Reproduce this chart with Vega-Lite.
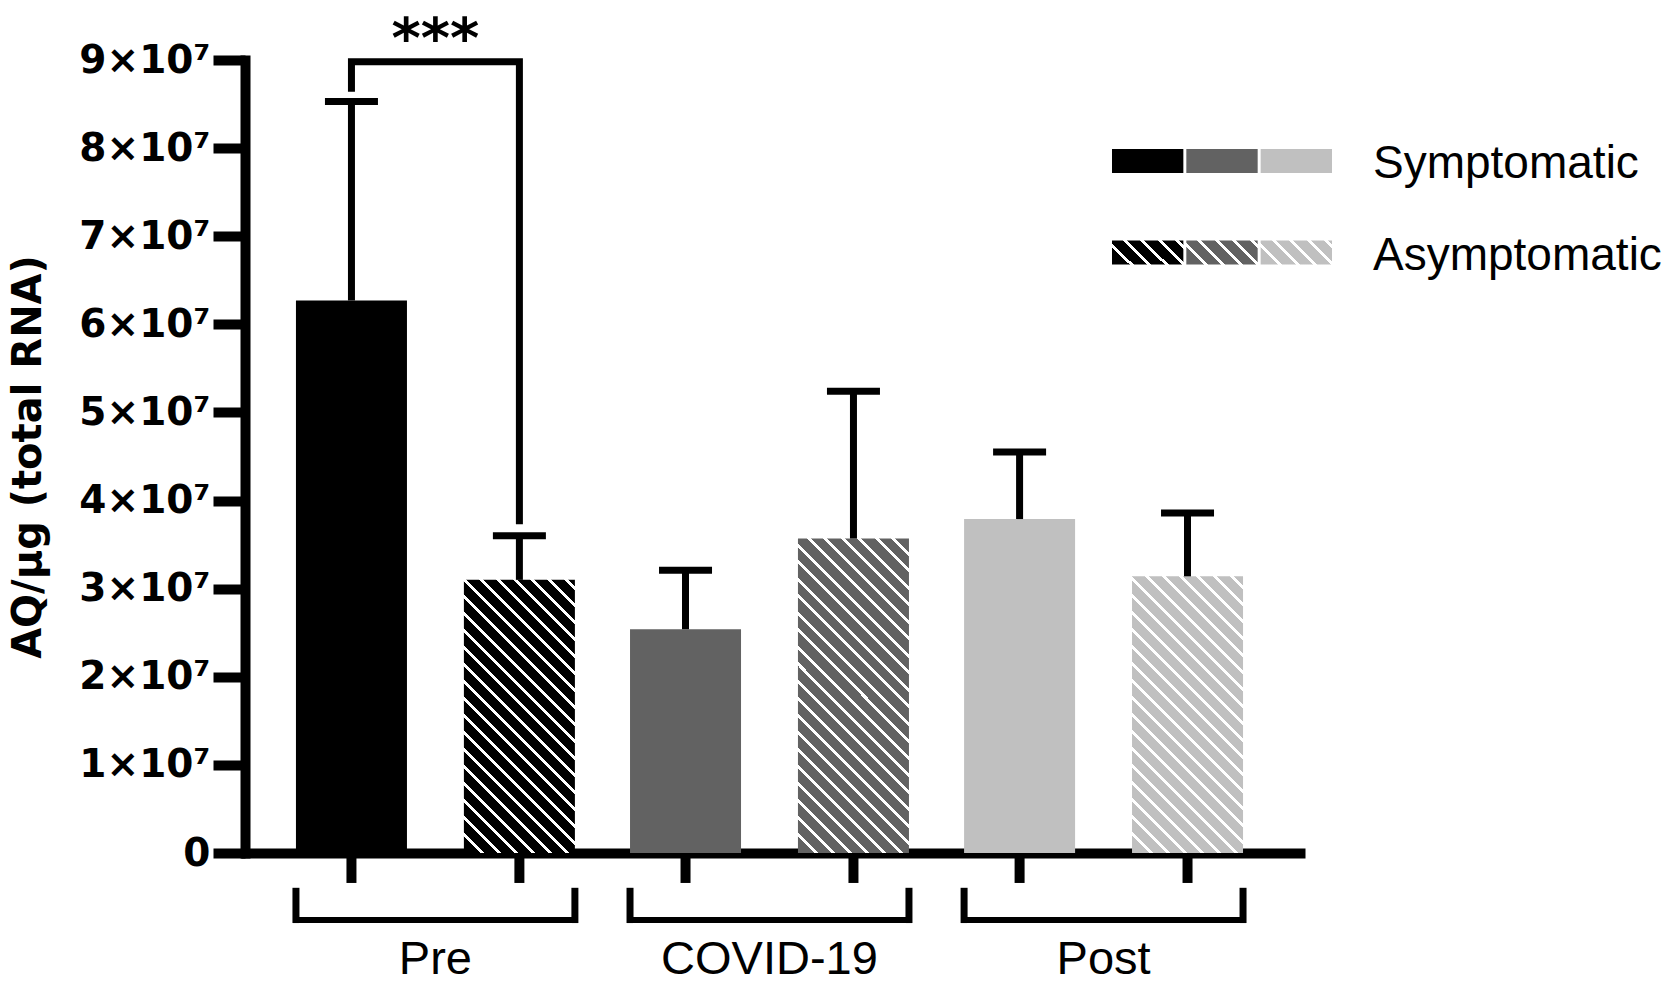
{
  "$schema": "https://vega.github.io/schema/vega-lite/v6.json",
  "autosize": "none",
  "width": 1064,
  "height": 793,
  "padding": {"left": 241, "top": 60, "right": 366, "bottom": 132},
  "background": "white",
  "config": {
    "view": {"stroke": null},
    "font": "Liberation Sans",
    "axisY": {"grid": false, "offset": -4, "domainWidth": 10, "domainColor": "black", "domainCap": "square", "tickWidth": 10, "tickSize": 32, "tickColor": "black", "labelFont": "DejaVu Sans", "labelFontSize": 39, "labelFontWeight": "bold", "labelColor": "black", "labelPadding": 3, "labelFlush": false, "labelOverlap": false, "titleFont": "DejaVu Sans", "titleFontSize": 40, "titleFontWeight": "bold", "titleColor": "black", "titlePadding": 30},
    "axisX": {"domainWidth": 10, "domainColor": "black", "ticks": false, "tickSize": 0, "labelFont": "Liberation Sans", "labelFontSize": 47, "labelColor": "black", "labelAngle": 0, "labelBaseline": "alphabetic", "labelPadding": 120, "labelLimit": 0, "grid": false}
  },
  "datasets": {
    "bars": [
      {"period": "Pre", "status": "Symptomatic", "mean": 62700000, "upper": 85300000},
      {"period": "Pre", "status": "Asymptomatic", "mean": 31000000, "upper": 36000000},
      {"period": "COVID-19", "status": "Symptomatic", "mean": 25400000, "upper": 32100000},
      {"period": "COVID-19", "status": "Asymptomatic", "mean": 35700000, "upper": 52400000},
      {"period": "Post", "status": "Symptomatic", "mean": 37900000, "upper": 45500000},
      {"period": "Post", "status": "Asymptomatic", "mean": 31400000, "upper": 38600000}
    ],
    "sig": [
      {"i": 1, "period": "Pre", "status": "Symptomatic", "v": 86400000},
      {"i": 2, "period": "Pre", "status": "Symptomatic", "v": 89800000},
      {"i": 3, "period": "Pre", "status": "Asymptomatic", "v": 89800000},
      {"i": 4, "period": "Pre", "status": "Asymptomatic", "v": 37300000}
    ],
    "groups": [{"period": "Pre"}, {"period": "COVID-19"}, {"period": "Post"}],
    "legend": [
      {"entry": "Symptomatic", "period": "Pre"},
      {"entry": "Symptomatic", "period": "COVID-19"},
      {"entry": "Symptomatic", "period": "Post"},
      {"entry": "Asymptomatic", "period": "Pre"},
      {"entry": "Asymptomatic", "period": "COVID-19"},
      {"entry": "Asymptomatic", "period": "Post"}
    ],
    "entries": [{"entry": "Symptomatic"}, {"entry": "Asymptomatic"}]
  },
  "layer": [
    {
      "encoding": {
        "x": {
          "field": "period", "type": "nominal", "title": null,
          "scale": {"domain": ["Pre", "COVID-19", "Post"], "paddingInner": 0.165, "paddingOuter": 0.175, "align": 0.47}
        }
      },
      "layer": [
        {
          "data": {"name": "bars"},
          "transform": [{"filter": "datum.status === 'Symptomatic'"}],
          "mark": {"type": "bar"},
          "encoding": {
            "xOffset": {"field": "status", "type": "nominal", "scale": {"domain": ["Symptomatic", "Asymptomatic"], "paddingInner": 0.339, "paddingOuter": 0}},
            "y": {
              "field": "mean", "type": "quantitative",
              "scale": {"domain": [0, 90000000], "nice": false},
              "axis": {"title": "AQ/μg (total RNA)", "values": [0, 10000000, 20000000, 30000000, 40000000, 50000000, 60000000, 70000000, 80000000, 90000000], "labelExpr": "datum.value === 0 ? '0' : format(datum.value / 10000000, 'd') + '×10⁷'"}
            },
            "color": {"field": "period", "type": "nominal", "scale": {"domain": ["Pre", "COVID-19", "Post"], "range": ["#000000", "#626262", "#c0c0c0"]}, "legend": null}
          }
        },
        {
          "data": {"name": "bars"},
          "transform": [{"filter": "datum.status === 'Asymptomatic' && datum.period === 'Pre'"}],
          "mark": {"type": "bar", "fill": {"gradient": "linear", "x1": 0, "y1": 1, "x2": 0.4906, "y2": -0.207, "stops": [
            {"offset": 0, "color": "#000000"},
            {"offset": 0.0443, "color": "#000000"}, {"offset": 0.0443, "color": "#ffffff"}, {"offset": 0.0547, "color": "#ffffff"}, {"offset": 0.0547, "color": "#000000"},
            {"offset": 0.0885, "color": "#000000"}, {"offset": 0.0885, "color": "#ffffff"}, {"offset": 0.0989, "color": "#ffffff"}, {"offset": 0.0989, "color": "#000000"},
            {"offset": 0.1328, "color": "#000000"}, {"offset": 0.1328, "color": "#ffffff"}, {"offset": 0.1432, "color": "#ffffff"}, {"offset": 0.1432, "color": "#000000"},
            {"offset": 0.1770, "color": "#000000"}, {"offset": 0.1770, "color": "#ffffff"}, {"offset": 0.1874, "color": "#ffffff"}, {"offset": 0.1874, "color": "#000000"},
            {"offset": 0.2213, "color": "#000000"}, {"offset": 0.2213, "color": "#ffffff"}, {"offset": 0.2317, "color": "#ffffff"}, {"offset": 0.2317, "color": "#000000"},
            {"offset": 0.2656, "color": "#000000"}, {"offset": 0.2656, "color": "#ffffff"}, {"offset": 0.2760, "color": "#ffffff"}, {"offset": 0.2760, "color": "#000000"},
            {"offset": 0.3098, "color": "#000000"}, {"offset": 0.3098, "color": "#ffffff"}, {"offset": 0.3202, "color": "#ffffff"}, {"offset": 0.3202, "color": "#000000"},
            {"offset": 0.3541, "color": "#000000"}, {"offset": 0.3541, "color": "#ffffff"}, {"offset": 0.3645, "color": "#ffffff"}, {"offset": 0.3645, "color": "#000000"},
            {"offset": 0.3983, "color": "#000000"}, {"offset": 0.3983, "color": "#ffffff"}, {"offset": 0.4087, "color": "#ffffff"}, {"offset": 0.4087, "color": "#000000"},
            {"offset": 0.4426, "color": "#000000"}, {"offset": 0.4426, "color": "#ffffff"}, {"offset": 0.4530, "color": "#ffffff"}, {"offset": 0.4530, "color": "#000000"},
            {"offset": 0.4869, "color": "#000000"}, {"offset": 0.4869, "color": "#ffffff"}, {"offset": 0.4973, "color": "#ffffff"}, {"offset": 0.4973, "color": "#000000"},
            {"offset": 0.5311, "color": "#000000"}, {"offset": 0.5311, "color": "#ffffff"}, {"offset": 0.5415, "color": "#ffffff"}, {"offset": 0.5415, "color": "#000000"},
            {"offset": 0.5754, "color": "#000000"}, {"offset": 0.5754, "color": "#ffffff"}, {"offset": 0.5858, "color": "#ffffff"}, {"offset": 0.5858, "color": "#000000"},
            {"offset": 0.6196, "color": "#000000"}, {"offset": 0.6196, "color": "#ffffff"}, {"offset": 0.6300, "color": "#ffffff"}, {"offset": 0.6300, "color": "#000000"},
            {"offset": 0.6639, "color": "#000000"}, {"offset": 0.6639, "color": "#ffffff"}, {"offset": 0.6743, "color": "#ffffff"}, {"offset": 0.6743, "color": "#000000"},
            {"offset": 0.7082, "color": "#000000"}, {"offset": 0.7082, "color": "#ffffff"}, {"offset": 0.7186, "color": "#ffffff"}, {"offset": 0.7186, "color": "#000000"},
            {"offset": 0.7524, "color": "#000000"}, {"offset": 0.7524, "color": "#ffffff"}, {"offset": 0.7628, "color": "#ffffff"}, {"offset": 0.7628, "color": "#000000"},
            {"offset": 0.7967, "color": "#000000"}, {"offset": 0.7967, "color": "#ffffff"}, {"offset": 0.8071, "color": "#ffffff"}, {"offset": 0.8071, "color": "#000000"},
            {"offset": 0.8409, "color": "#000000"}, {"offset": 0.8409, "color": "#ffffff"}, {"offset": 0.8513, "color": "#ffffff"}, {"offset": 0.8513, "color": "#000000"},
            {"offset": 0.8852, "color": "#000000"}, {"offset": 0.8852, "color": "#ffffff"}, {"offset": 0.8956, "color": "#ffffff"}, {"offset": 0.8956, "color": "#000000"},
            {"offset": 0.9295, "color": "#000000"}, {"offset": 0.9295, "color": "#ffffff"}, {"offset": 0.9399, "color": "#ffffff"}, {"offset": 0.9399, "color": "#000000"},
            {"offset": 0.9737, "color": "#000000"}, {"offset": 0.9737, "color": "#ffffff"}, {"offset": 0.9841, "color": "#ffffff"}, {"offset": 0.9841, "color": "#000000"},
            {"offset": 1, "color": "#000000"}
          ]}},
          "encoding": {
            "xOffset": {"field": "status", "type": "nominal"},
            "y": {"field": "mean", "type": "quantitative", "title": "AQ/μg (total RNA)"}
          }
        },
        {
          "data": {"name": "bars"},
          "transform": [{"filter": "datum.status === 'Asymptomatic' && datum.period === 'COVID-19'"}],
          "mark": {"type": "bar", "fill": {"gradient": "linear", "x1": 0, "y1": 1, "x2": 0.4246, "y2": -0.2031, "stops": [
            {"offset": 0, "color": "#626262"},
            {"offset": 0.0400, "color": "#626262"}, {"offset": 0.0400, "color": "#ffffff"}, {"offset": 0.0494, "color": "#ffffff"}, {"offset": 0.0494, "color": "#626262"},
            {"offset": 0.0799, "color": "#626262"}, {"offset": 0.0799, "color": "#ffffff"}, {"offset": 0.0893, "color": "#ffffff"}, {"offset": 0.0893, "color": "#626262"},
            {"offset": 0.1199, "color": "#626262"}, {"offset": 0.1199, "color": "#ffffff"}, {"offset": 0.1293, "color": "#ffffff"}, {"offset": 0.1293, "color": "#626262"},
            {"offset": 0.1598, "color": "#626262"}, {"offset": 0.1598, "color": "#ffffff"}, {"offset": 0.1692, "color": "#ffffff"}, {"offset": 0.1692, "color": "#626262"},
            {"offset": 0.1998, "color": "#626262"}, {"offset": 0.1998, "color": "#ffffff"}, {"offset": 0.2092, "color": "#ffffff"}, {"offset": 0.2092, "color": "#626262"},
            {"offset": 0.2397, "color": "#626262"}, {"offset": 0.2397, "color": "#ffffff"}, {"offset": 0.2491, "color": "#ffffff"}, {"offset": 0.2491, "color": "#626262"},
            {"offset": 0.2797, "color": "#626262"}, {"offset": 0.2797, "color": "#ffffff"}, {"offset": 0.2891, "color": "#ffffff"}, {"offset": 0.2891, "color": "#626262"},
            {"offset": 0.3196, "color": "#626262"}, {"offset": 0.3196, "color": "#ffffff"}, {"offset": 0.3290, "color": "#ffffff"}, {"offset": 0.3290, "color": "#626262"},
            {"offset": 0.3596, "color": "#626262"}, {"offset": 0.3596, "color": "#ffffff"}, {"offset": 0.3690, "color": "#ffffff"}, {"offset": 0.3690, "color": "#626262"},
            {"offset": 0.3995, "color": "#626262"}, {"offset": 0.3995, "color": "#ffffff"}, {"offset": 0.4089, "color": "#ffffff"}, {"offset": 0.4089, "color": "#626262"},
            {"offset": 0.4395, "color": "#626262"}, {"offset": 0.4395, "color": "#ffffff"}, {"offset": 0.4489, "color": "#ffffff"}, {"offset": 0.4489, "color": "#626262"},
            {"offset": 0.4794, "color": "#626262"}, {"offset": 0.4794, "color": "#ffffff"}, {"offset": 0.4888, "color": "#ffffff"}, {"offset": 0.4888, "color": "#626262"},
            {"offset": 0.5194, "color": "#626262"}, {"offset": 0.5194, "color": "#ffffff"}, {"offset": 0.5288, "color": "#ffffff"}, {"offset": 0.5288, "color": "#626262"},
            {"offset": 0.5593, "color": "#626262"}, {"offset": 0.5593, "color": "#ffffff"}, {"offset": 0.5687, "color": "#ffffff"}, {"offset": 0.5687, "color": "#626262"},
            {"offset": 0.5993, "color": "#626262"}, {"offset": 0.5993, "color": "#ffffff"}, {"offset": 0.6087, "color": "#ffffff"}, {"offset": 0.6087, "color": "#626262"},
            {"offset": 0.6392, "color": "#626262"}, {"offset": 0.6392, "color": "#ffffff"}, {"offset": 0.6486, "color": "#ffffff"}, {"offset": 0.6486, "color": "#626262"},
            {"offset": 0.6792, "color": "#626262"}, {"offset": 0.6792, "color": "#ffffff"}, {"offset": 0.6886, "color": "#ffffff"}, {"offset": 0.6886, "color": "#626262"},
            {"offset": 0.7191, "color": "#626262"}, {"offset": 0.7191, "color": "#ffffff"}, {"offset": 0.7285, "color": "#ffffff"}, {"offset": 0.7285, "color": "#626262"},
            {"offset": 0.7591, "color": "#626262"}, {"offset": 0.7591, "color": "#ffffff"}, {"offset": 0.7685, "color": "#ffffff"}, {"offset": 0.7685, "color": "#626262"},
            {"offset": 0.7990, "color": "#626262"}, {"offset": 0.7990, "color": "#ffffff"}, {"offset": 0.8084, "color": "#ffffff"}, {"offset": 0.8084, "color": "#626262"},
            {"offset": 0.8390, "color": "#626262"}, {"offset": 0.8390, "color": "#ffffff"}, {"offset": 0.8484, "color": "#ffffff"}, {"offset": 0.8484, "color": "#626262"},
            {"offset": 0.8789, "color": "#626262"}, {"offset": 0.8789, "color": "#ffffff"}, {"offset": 0.8883, "color": "#ffffff"}, {"offset": 0.8883, "color": "#626262"},
            {"offset": 0.9189, "color": "#626262"}, {"offset": 0.9189, "color": "#ffffff"}, {"offset": 0.9283, "color": "#ffffff"}, {"offset": 0.9283, "color": "#626262"},
            {"offset": 0.9588, "color": "#626262"}, {"offset": 0.9588, "color": "#ffffff"}, {"offset": 0.9682, "color": "#ffffff"}, {"offset": 0.9682, "color": "#626262"},
            {"offset": 1, "color": "#626262"}
          ]}},
          "encoding": {
            "xOffset": {"field": "status", "type": "nominal"},
            "y": {"field": "mean", "type": "quantitative", "title": "AQ/μg (total RNA)"}
          }
        },
        {
          "data": {"name": "bars"},
          "transform": [{"filter": "datum.status === 'Asymptomatic' && datum.period === 'Post'"}],
          "mark": {"type": "bar", "fill": {"gradient": "linear", "x1": 0, "y1": 1, "x2": 0.4843, "y2": -0.207, "stops": [
            {"offset": 0, "color": "#c0c0c0"},
            {"offset": 0.0439, "color": "#c0c0c0"}, {"offset": 0.0439, "color": "#ffffff"}, {"offset": 0.0542, "color": "#ffffff"}, {"offset": 0.0542, "color": "#c0c0c0"},
            {"offset": 0.0877, "color": "#c0c0c0"}, {"offset": 0.0877, "color": "#ffffff"}, {"offset": 0.0980, "color": "#ffffff"}, {"offset": 0.0980, "color": "#c0c0c0"},
            {"offset": 0.1316, "color": "#c0c0c0"}, {"offset": 0.1316, "color": "#ffffff"}, {"offset": 0.1419, "color": "#ffffff"}, {"offset": 0.1419, "color": "#c0c0c0"},
            {"offset": 0.1754, "color": "#c0c0c0"}, {"offset": 0.1754, "color": "#ffffff"}, {"offset": 0.1857, "color": "#ffffff"}, {"offset": 0.1857, "color": "#c0c0c0"},
            {"offset": 0.2193, "color": "#c0c0c0"}, {"offset": 0.2193, "color": "#ffffff"}, {"offset": 0.2296, "color": "#ffffff"}, {"offset": 0.2296, "color": "#c0c0c0"},
            {"offset": 0.2632, "color": "#c0c0c0"}, {"offset": 0.2632, "color": "#ffffff"}, {"offset": 0.2735, "color": "#ffffff"}, {"offset": 0.2735, "color": "#c0c0c0"},
            {"offset": 0.3070, "color": "#c0c0c0"}, {"offset": 0.3070, "color": "#ffffff"}, {"offset": 0.3173, "color": "#ffffff"}, {"offset": 0.3173, "color": "#c0c0c0"},
            {"offset": 0.3509, "color": "#c0c0c0"}, {"offset": 0.3509, "color": "#ffffff"}, {"offset": 0.3612, "color": "#ffffff"}, {"offset": 0.3612, "color": "#c0c0c0"},
            {"offset": 0.3947, "color": "#c0c0c0"}, {"offset": 0.3947, "color": "#ffffff"}, {"offset": 0.4050, "color": "#ffffff"}, {"offset": 0.4050, "color": "#c0c0c0"},
            {"offset": 0.4386, "color": "#c0c0c0"}, {"offset": 0.4386, "color": "#ffffff"}, {"offset": 0.4489, "color": "#ffffff"}, {"offset": 0.4489, "color": "#c0c0c0"},
            {"offset": 0.4825, "color": "#c0c0c0"}, {"offset": 0.4825, "color": "#ffffff"}, {"offset": 0.4928, "color": "#ffffff"}, {"offset": 0.4928, "color": "#c0c0c0"},
            {"offset": 0.5263, "color": "#c0c0c0"}, {"offset": 0.5263, "color": "#ffffff"}, {"offset": 0.5366, "color": "#ffffff"}, {"offset": 0.5366, "color": "#c0c0c0"},
            {"offset": 0.5702, "color": "#c0c0c0"}, {"offset": 0.5702, "color": "#ffffff"}, {"offset": 0.5805, "color": "#ffffff"}, {"offset": 0.5805, "color": "#c0c0c0"},
            {"offset": 0.6140, "color": "#c0c0c0"}, {"offset": 0.6140, "color": "#ffffff"}, {"offset": 0.6243, "color": "#ffffff"}, {"offset": 0.6243, "color": "#c0c0c0"},
            {"offset": 0.6579, "color": "#c0c0c0"}, {"offset": 0.6579, "color": "#ffffff"}, {"offset": 0.6682, "color": "#ffffff"}, {"offset": 0.6682, "color": "#c0c0c0"},
            {"offset": 0.7018, "color": "#c0c0c0"}, {"offset": 0.7018, "color": "#ffffff"}, {"offset": 0.7121, "color": "#ffffff"}, {"offset": 0.7121, "color": "#c0c0c0"},
            {"offset": 0.7456, "color": "#c0c0c0"}, {"offset": 0.7456, "color": "#ffffff"}, {"offset": 0.7559, "color": "#ffffff"}, {"offset": 0.7559, "color": "#c0c0c0"},
            {"offset": 0.7895, "color": "#c0c0c0"}, {"offset": 0.7895, "color": "#ffffff"}, {"offset": 0.7998, "color": "#ffffff"}, {"offset": 0.7998, "color": "#c0c0c0"},
            {"offset": 0.8333, "color": "#c0c0c0"}, {"offset": 0.8333, "color": "#ffffff"}, {"offset": 0.8436, "color": "#ffffff"}, {"offset": 0.8436, "color": "#c0c0c0"},
            {"offset": 0.8772, "color": "#c0c0c0"}, {"offset": 0.8772, "color": "#ffffff"}, {"offset": 0.8875, "color": "#ffffff"}, {"offset": 0.8875, "color": "#c0c0c0"},
            {"offset": 0.9211, "color": "#c0c0c0"}, {"offset": 0.9211, "color": "#ffffff"}, {"offset": 0.9314, "color": "#ffffff"}, {"offset": 0.9314, "color": "#c0c0c0"},
            {"offset": 0.9649, "color": "#c0c0c0"}, {"offset": 0.9649, "color": "#ffffff"}, {"offset": 0.9752, "color": "#ffffff"}, {"offset": 0.9752, "color": "#c0c0c0"},
            {"offset": 1, "color": "#c0c0c0"}
          ]}},
          "encoding": {
            "xOffset": {"field": "status", "type": "nominal"},
            "y": {"field": "mean", "type": "quantitative", "title": "AQ/μg (total RNA)"}
          }
        },
        {
          "data": {"name": "bars"},
          "mark": {"type": "rule", "strokeWidth": 7, "color": "black"},
          "encoding": {
            "xOffset": {"field": "status", "type": "nominal"},
            "y": {"field": "mean", "type": "quantitative", "title": "AQ/μg (total RNA)"},
            "y2": {"field": "upper"}
          }
        },
        {
          "data": {"name": "bars"},
          "mark": {"type": "tick", "size": 53, "thickness": 7, "color": "black", "opacity": 1},
          "encoding": {
            "xOffset": {"field": "status", "type": "nominal"},
            "y": {"field": "upper", "type": "quantitative", "title": "AQ/μg (total RNA)"}
          }
        },
        {
          "data": {"name": "bars"},
          "mark": {"type": "rule", "strokeWidth": 10, "color": "black"},
          "encoding": {
            "xOffset": {"field": "status", "type": "nominal"},
            "y": {"datum": 0, "type": "quantitative", "title": "AQ/μg (total RNA)"},
            "y2": {"datum": -3400000}
          }
        },
        {
          "data": {"name": "sig"},
          "mark": {"type": "line", "strokeWidth": 7, "color": "black", "strokeJoin": "miter", "strokeCap": "butt"},
          "encoding": {
            "xOffset": {"field": "status", "type": "nominal"},
            "y": {"field": "v", "type": "quantitative", "title": "AQ/μg (total RNA)"},
            "order": {"field": "i", "type": "quantitative"}
          }
        },
        {
          "data": {"values": [{"period": "Pre", "label": "***"}]},
          "mark": {"type": "text", "font": "DejaVu Sans", "fontSize": 56, "fontWeight": "bold", "baseline": "alphabetic", "align": "center", "color": "black", "dy": -3},
          "encoding": {
            "y": {"datum": 90000000, "type": "quantitative", "title": "AQ/μg (total RNA)"},
            "text": {"field": "label"}
          }
        },
        {
          "data": {"name": "groups"},
          "mark": {"type": "bar", "color": "black"},
          "encoding": {
            "y": {"datum": -7250000, "type": "quantitative", "title": "AQ/μg (total RNA)"},
            "y2": {"datum": -7950000}
          }
        },
        {
          "data": {"name": "groups"},
          "mark": {"type": "rule", "strokeWidth": 7, "color": "black"},
          "encoding": {
            "x": {"field": "period", "type": "nominal", "title": null, "bandPosition": 0},
            "y": {"datum": -3950000, "type": "quantitative", "title": "AQ/μg (total RNA)"},
            "y2": {"datum": -7950000}
          }
        },
        {
          "data": {"name": "groups"},
          "mark": {"type": "rule", "strokeWidth": 7, "color": "black"},
          "encoding": {
            "x": {"field": "period", "type": "nominal", "title": null, "bandPosition": 1},
            "y": {"datum": -3950000, "type": "quantitative", "title": "AQ/μg (total RNA)"},
            "y2": {"datum": -7950000}
          }
        }
      ]
    },
    {
      "encoding": {
        "x": {"field": "period", "type": "nominal", "scale": {"type": "band", "domain": ["Pre", "COVID-19", "Post"], "range": [871, 1091], "paddingInner": 0.04, "paddingOuter": 0}, "axis": null},
        "y": {"field": "entry", "type": "nominal", "scale": {"type": "band", "domain": ["Symptomatic", "Asymptomatic"], "range": [89, 204.5], "paddingInner": 0.738, "paddingOuter": 0}, "axis": null}
      },
      "layer": [
        {
          "data": {"name": "legend"},
          "transform": [{"filter": "datum.entry === 'Symptomatic'"}],
          "mark": {"type": "rect"},
          "encoding": {
            "color": {"field": "period", "type": "nominal", "legend": null}
          }
        },
        {
          "data": {"name": "legend"},
          "transform": [{"filter": "datum.entry === 'Asymptomatic' && datum.period === 'Pre'"}],
          "mark": {"type": "rect", "fill": {"gradient": "linear", "x1": 0, "y1": 1, "x2": 1.2, "y2": 0.596, "stops": [
            {"offset": 0, "color": "#000000"},
            {"offset": 0.1836, "color": "#000000"}, {"offset": 0.1836, "color": "#ffffff"}, {"offset": 0.2256, "color": "#ffffff"}, {"offset": 0.2256, "color": "#000000"},
            {"offset": 0.3672, "color": "#000000"}, {"offset": 0.3672, "color": "#ffffff"}, {"offset": 0.4092, "color": "#ffffff"}, {"offset": 0.4092, "color": "#000000"},
            {"offset": 0.5508, "color": "#000000"}, {"offset": 0.5508, "color": "#ffffff"}, {"offset": 0.5928, "color": "#ffffff"}, {"offset": 0.5928, "color": "#000000"},
            {"offset": 0.7344, "color": "#000000"}, {"offset": 0.7344, "color": "#ffffff"}, {"offset": 0.7764, "color": "#ffffff"}, {"offset": 0.7764, "color": "#000000"},
            {"offset": 0.9180, "color": "#000000"}, {"offset": 0.9180, "color": "#ffffff"}, {"offset": 0.9600, "color": "#ffffff"}, {"offset": 0.9600, "color": "#000000"},
            {"offset": 1, "color": "#000000"}
          ]}}
        },
        {
          "data": {"name": "legend"},
          "transform": [{"filter": "datum.entry === 'Asymptomatic' && datum.period === 'COVID-19'"}],
          "mark": {"type": "rect", "fill": {"gradient": "linear", "x1": 0, "y1": 1, "x2": 1.2, "y2": 0.596, "stops": [
            {"offset": 0, "color": "#626262"},
            {"offset": 0.1836, "color": "#626262"}, {"offset": 0.1836, "color": "#ffffff"}, {"offset": 0.2256, "color": "#ffffff"}, {"offset": 0.2256, "color": "#626262"},
            {"offset": 0.3672, "color": "#626262"}, {"offset": 0.3672, "color": "#ffffff"}, {"offset": 0.4092, "color": "#ffffff"}, {"offset": 0.4092, "color": "#626262"},
            {"offset": 0.5508, "color": "#626262"}, {"offset": 0.5508, "color": "#ffffff"}, {"offset": 0.5928, "color": "#ffffff"}, {"offset": 0.5928, "color": "#626262"},
            {"offset": 0.7344, "color": "#626262"}, {"offset": 0.7344, "color": "#ffffff"}, {"offset": 0.7764, "color": "#ffffff"}, {"offset": 0.7764, "color": "#626262"},
            {"offset": 0.9180, "color": "#626262"}, {"offset": 0.9180, "color": "#ffffff"}, {"offset": 0.9600, "color": "#ffffff"}, {"offset": 0.9600, "color": "#626262"},
            {"offset": 1, "color": "#626262"}
          ]}}
        },
        {
          "data": {"name": "legend"},
          "transform": [{"filter": "datum.entry === 'Asymptomatic' && datum.period === 'Post'"}],
          "mark": {"type": "rect", "fill": {"gradient": "linear", "x1": 0, "y1": 1, "x2": 1.2, "y2": 0.596, "stops": [
            {"offset": 0, "color": "#c0c0c0"},
            {"offset": 0.1836, "color": "#c0c0c0"}, {"offset": 0.1836, "color": "#ffffff"}, {"offset": 0.2256, "color": "#ffffff"}, {"offset": 0.2256, "color": "#c0c0c0"},
            {"offset": 0.3672, "color": "#c0c0c0"}, {"offset": 0.3672, "color": "#ffffff"}, {"offset": 0.4092, "color": "#ffffff"}, {"offset": 0.4092, "color": "#c0c0c0"},
            {"offset": 0.5508, "color": "#c0c0c0"}, {"offset": 0.5508, "color": "#ffffff"}, {"offset": 0.5928, "color": "#ffffff"}, {"offset": 0.5928, "color": "#c0c0c0"},
            {"offset": 0.7344, "color": "#c0c0c0"}, {"offset": 0.7344, "color": "#ffffff"}, {"offset": 0.7764, "color": "#ffffff"}, {"offset": 0.7764, "color": "#c0c0c0"},
            {"offset": 0.9180, "color": "#c0c0c0"}, {"offset": 0.9180, "color": "#ffffff"}, {"offset": 0.9600, "color": "#ffffff"}, {"offset": 0.9600, "color": "#c0c0c0"},
            {"offset": 1, "color": "#c0c0c0"}
          ]}}
        },
        {
          "data": {"name": "entries"},
          "mark": {"type": "text", "font": "Liberation Sans", "fontSize": 46, "align": "left", "baseline": "middle", "color": "black", "dx": 41, "dy": 3},
          "encoding": {
            "x": {"datum": "Post", "type": "nominal", "bandPosition": 1},
            "text": {"field": "entry"}
          }
        }
      ]
    }
  ],
  "resolve": {"scale": {"x": "independent", "y": "independent"}}
}
